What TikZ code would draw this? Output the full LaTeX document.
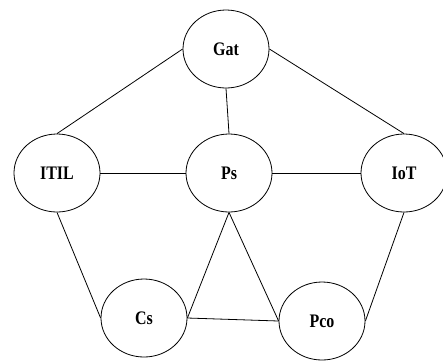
\documentclass[tikz,border=0pt]{standalone}
\usepackage{fontspec}
\setmainfont{Liberation Serif}
\usetikzlibrary{shapes.geometric}
\tikzset{
  topic/.style={ellipse, draw, line width=0.8bp, minimum width=86bp, minimum height=78bp, inner sep=0pt,
    font=\fontsize{16}{16}\selectfont\bfseries},
  link/.style={line width=0.8bp}
}
\newcommand{\tallt}[1]{\scalebox{1}[1.2]{#1}}
\begin{document}
\begin{tikzpicture}[x=1bp,y=-1bp]
\useasboundingbox (0,0) rectangle (443,360);
\node[topic] (gat) at (226,49) {\tallt{Gat}};
\node[topic] (itil) at (57,173) {\tallt{ITIL}};
\node[topic] (ps) at (229,173) {\tallt{Ps}};
\node[topic] (iot) at (404,173) {\tallt{IoT}};
\node[topic] (cs) at (144,318) {\tallt{Cs}};
\node[topic] (pco) at (322,321) {\tallt{Pco}};
\draw[link] (gat.west) -- (itil.north);
\draw[link] (gat.east) -- (iot.north);
\draw[link] (gat.south) -- (ps.north);
\draw[link] (itil.east) -- (ps.west);
\draw[link] (ps.east) -- (iot.west);
\draw[link] (itil.south) -- (cs.west);
\draw[link] (iot.south) -- (pco.east);
\draw[link] (ps.south) -- (cs.east);
\draw[link] (ps.south) -- (pco.west);
\draw[link] (cs.east) -- (pco.west);
\end{tikzpicture}
\end{document}
